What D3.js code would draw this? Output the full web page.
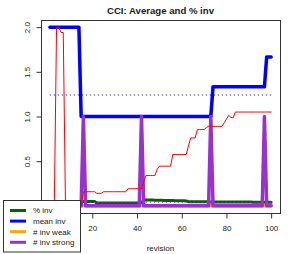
<!DOCTYPE html>
<html lang="en">
<head>
    <meta charset="UTF-8">
    <title>CCI: Average and % inv</title>
    <script src="https://d3js.org/d3.v7.min.js"></script>
    <style>
        body {
            margin: 0;
            background: #fff;
        }

        svg text {
            font-family: "Liberation Sans", Arial, sans-serif;
            fill: #1a1a1a;
        }

        .series {
            fill: none;
            stroke-linejoin: round;
            stroke-linecap: round;
        }
    </style>
</head>
<body>

<div id="chart"></div>

<script>
    // revisions 1..100
    const revisions = d3.range(1, 101);

    const pctInv = [
        0.05, 0.05, 0.05, 0.05, 0.05, 0.05, 0.05, 0.05, 0.05, 0.05,
        0.05, 0.05, 0.05, 0.05, 0.05, 0.05, 0.05, 0.05, 0.05, 0.05,
        0.05, 0.031, 0.031, 0.031, 0.031, 0.031, 0.031, 0.031, 0.031, 0.031,
        0.031, 0.031, 0.031, 0.031, 0.031, 0.031, 0.031, 0.031, 0.031, 0.031,
        0.031, 0.031, 0.067, 0.066, 0.066, 0.065, 0.065, 0.064, 0.064, 0.063,
        0.062, 0.061, 0.061, 0.06, 0.06, 0.059, 0.058, 0.058, 0.057, 0.057,
        0.056, 0.055, 0.047, 0.047, 0.047, 0.047, 0.047, 0.047, 0.047, 0.047,
        0.047, 0.047, 0.044, 0.044, 0.044, 0.044, 0.044, 0.044, 0.043, 0.043,
        0.043, 0.043, 0.043, 0.043, 0.042, 0.042, 0.042, 0.042, 0.042, 0.042,
        0.042, 0.041, 0.041, 0.041, 0.041, 0.041, 0.041, 0.041, 0.041, 0.041
    ];

    const meanInv = [
        2, 2, 2, 2, 2, 2, 2, 2, 2, 2,
        2, 2, 2, 2, 1, 1, 1, 1, 1, 1,
        1, 1, 1, 1, 1, 1, 1, 1, 1, 1,
        1, 1, 1, 1, 1, 1, 1, 1, 1, 1,
        1, 1, 1, 1, 1, 1, 1, 1, 1, 1,
        1, 1, 1, 1, 1, 1, 1, 1, 1, 1,
        1, 1, 1, 1, 1, 1, 1, 1, 1, 1,
        1, 1, 1, 1.333, 1.333, 1.333, 1.333, 1.333, 1.333, 1.333,
        1.333, 1.333, 1.333, 1.333, 1.333, 1.333, 1.333, 1.333, 1.333, 1.333,
        1.333, 1.333, 1.333, 1.333, 1.333, 1.333, 1.333, 1.667, 1.667, 1.667
    ];

    const invWeak = [
        0, 0, 0, 0, 0, 0, 0, 0, 0, 0,
        0, 0, 0, 0, 0, 0, 0, 0, 0, 0,
        0, 0, 0, 0, 0, 0, 0, 0, 0, 0,
        0, 0, 0, 0, 0, 0, 0, 0, 0, 0,
        0, 0, 0, 0, 0, 0, 0, 0, 0, 0,
        0, 0, 0, 0, 0, 0, 0, 0, 0, 0,
        0, 0, 0, 0, 0, 0, 0, 0, 0, 0,
        0, 0, 0, 0, 0, 0, 0, 0, 0, 0,
        0, 0, 0, 0, 0, 0, 0, 0, 0, 0,
        0, 0, 0, 0, 0, 0, 0, 0, 0, 0
    ];

    const invStrong = [
        0, 0, 0, 0, 0, 0, 0, 0, 0, 0,
        0, 0, 0, 0, 0, 1, 0, 0, 0, 0,
        0, 0, 0, 0, 0, 0, 0, 0, 0, 0,
        0, 0, 0, 0, 0, 0, 0, 0, 0, 0,
        0, 1, 0, 0, 0, 0, 0, 0, 0, 0,
        0, 0, 0, 0, 0, 0, 0, 0, 0, 0,
        0, 0, 0, 0, 0, 0, 0, 0, 0, 0,
        0, 0, 1, 0, 0, 0, 0, 0, 0, 0,
        0, 0, 0, 0, 0, 0, 0, 0, 0, 0,
        0, 0, 0, 0, 0, 0, 1, 0, 0, 0
    ];

    // thin red line, not in the legend
    const redLine = [
        0, 0, 0, 2, 2, 1.94, 1.94, 0, 0, 0,
        0, 0, 0, 0, 0, 0.158, 0.158, 0.158, 0.158, 0.158,
        0.158, 0.14, 0.14, 0.14, 0.158, 0.158, 0.158, 0.158, 0.158, 0.158,
        0.158, 0.158, 0.158, 0.158, 0.158, 0.192, 0.192, 0.192, 0.192, 0.192,
        0.192, 0.192, 0.27, 0.34, 0.34, 0.34, 0.34, 0.34, 0.41, 0.444,
        0.444, 0.444, 0.444, 0.444, 0.444, 0.575, 0.575, 0.575, 0.575, 0.575,
        0.575, 0.575, 0.67, 0.76, 0.76, 0.76, 0.854, 0.854, 0.854, 0.854,
        0.875, 0.89, 0.89, 0.89, 0.89, 0.89, 0.89, 0.89, 0.93, 0.97,
        1.013, 0.99, 0.984, 1.05, 1.05, 1.05, 1.05, 1.05, 1.05, 1.05,
        1.05, 1.05, 1.05, 1.05, 1.05, 1.05, 1.05, 1.05, 1.05, 1.05
    ];

    const legendLabels = ["% inv", "mean inv", "# inv weak", "# inv strong"];
    // the 0 tick sits under the legend, so only these show
    const xTicks = [20, 40, 60, 80, 100];
    const yTicks = [0, 0.5, 1, 1.5, 2];

    const width = 294, height = 254;
    const plot = {left: 41, right: 280, top: 20, bottom: 213};

    // R style: 4% padding on each side
    const xPad = (100 - 1) * 0.04;
    const x = d3.scaleLinear()
        .domain([1 - xPad, 100 + xPad])
        .range([plot.left, plot.right]);

    const y = d3.scaleLinear()
        .domain([-0.08, 2.08])
        .range([plot.bottom, plot.top]);

    const svg = d3.select("#chart").append("svg")
        .attr("width", width)
        .attr("height", height);

    const line = d3.line()
        .x((d, i) => x(revisions[i]))
        .y(d => y(d));

    const series = [
        {values: pctInv, color: "#006400", lw: 3},
        {values: meanInv, color: "#0000ff", lw: 3.5},
        {values: invWeak, color: "#ffa500", lw: 3.5},
        {values: invStrong, color: "#9932cc", lw: 3.5}
    ];

    series.forEach(s => {
        svg.append("path")
            .attr("class", "series")
            .attr("d", line(s.values))
            .attr("stroke", s.color)
            .attr("stroke-width", s.lw);
    });

    // dotted averages
    [{values: meanInv, color: "#0000ff"}, {values: invStrong, color: "#9932cc"}].forEach(s => {
        const m = d3.mean(s.values);
        svg.append("line")
            .attr("x1", x(1)).attr("x2", x(100))
            .attr("y1", y(m)).attr("y2", y(m))
            .attr("stroke", s.color)
            .attr("stroke-width", 1.1)
            .attr("stroke-dasharray", "1,3");
    });

    svg.append("path")
        .attr("class", "series")
        .attr("d", line(redLine))
        .attr("stroke", "#ff0000")
        .attr("stroke-width", 1);

    // plot box
    svg.append("rect")
        .attr("x", plot.left + 0.5)
        .attr("y", plot.top + 0.5)
        .attr("width", plot.right - plot.left)
        .attr("height", plot.bottom - plot.top)
        .attr("fill", "none")
        .attr("stroke", "#333");

    // axes
    const xAxis = svg.append("g")
        .attr("transform", `translate(0,${plot.bottom + 0.5})`)
        .call(d3.axisBottom(x).tickValues(xTicks).tickSize(5).tickSizeOuter(0).tickFormat(d3.format("d")));
    xAxis.select(".domain").remove();
    xAxis.selectAll("line").attr("stroke", "#333");
    xAxis.selectAll("text")
        .attr("y", 17.5).attr("dy", 0)
        .style("font-size", "8px")
        .style("font-family", "Liberation Sans, Arial, sans-serif");

    const yAxis = svg.append("g")
        .attr("transform", `translate(${plot.left + 0.5},0)`)
        .call(d3.axisLeft(y).tickValues(yTicks).tickSize(5).tickSizeOuter(0).tickFormat(d3.format(".1f")));
    yAxis.select(".domain").remove();
    yAxis.selectAll("line").attr("stroke", "#333");
    yAxis.selectAll("text")
        .attr("x", 0).attr("y", 0).attr("dy", 0)
        .attr("transform", "translate(-12,0) rotate(-90)")
        .attr("text-anchor", "middle")
        .style("font-size", "8px")
        .style("font-family", "Liberation Sans, Arial, sans-serif");

    // title and x label
    svg.append("text")
        .attr("x", (plot.left + plot.right) / 2)
        .attr("y", 13.6)
        .attr("text-anchor", "middle")
        .style("font-size", "9.6px")
        .style("font-weight", "bold")
        .text("CCI: Average and % inv");

    svg.append("text")
        .attr("x", (plot.left + plot.right) / 2)
        .attr("y", 251.3)
        .attr("text-anchor", "middle")
        .style("font-size", "8px")
        .text("revision");

    // legend
    const legend = svg.append("g");
    legend.append("rect")
        .attr("x", 3.5).attr("y", 200.5)
        .attr("width", 77).attr("height", 51.5)
        .attr("fill", "#fff")
        .attr("stroke", "#333");

    legendLabels.forEach((label, i) => {
        const ly = 210.5 + i * 10.6;
        legend.append("line")
            .attr("x1", 10).attr("x2", 26)
            .attr("y1", ly).attr("y2", ly)
            .attr("stroke", series[i].color)
            .attr("stroke-width", 3);
        legend.append("text")
            .attr("x", 33)
            .attr("y", ly + 2.9)
            .style("font-size", "8px")
            .text(label);
    });
</script>

</body>
</html>
